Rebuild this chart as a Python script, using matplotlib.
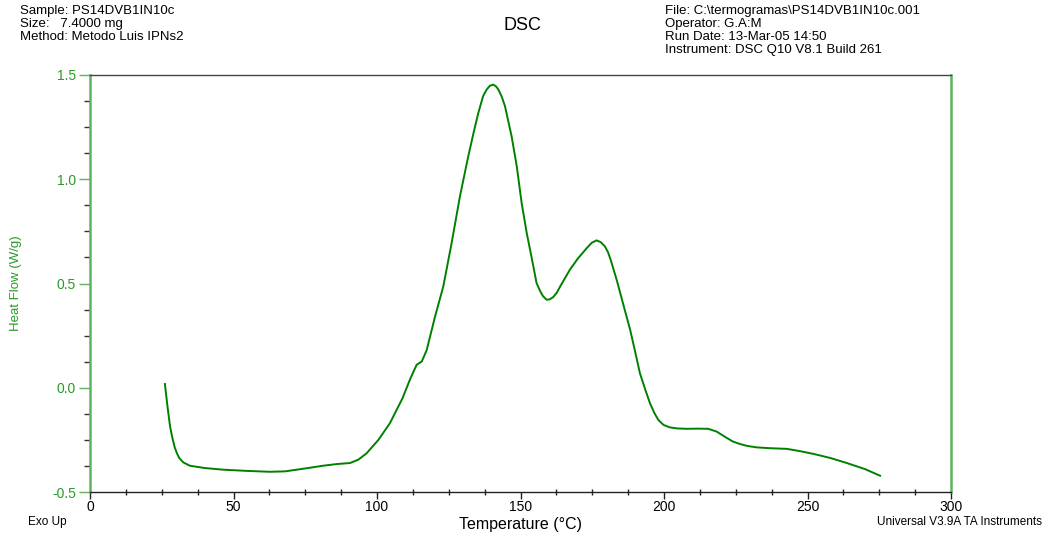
"""
DSC thermogram for sample PS14DVB1IN10c, redrawn with matplotlib.
"""
import matplotlib
matplotlib.use("Agg")
import matplotlib.pyplot as plt
from matplotlib.ticker import MultipleLocator, FormatStrFormatter

matplotlib.rcParams.update({
    "font.family": ["Liberation Sans", "DejaVu Sans"],
    "font.size": 10,
})

# temperature (°C) and heat flow (W/g)
temp = [26.1, 26.5, 27.0, 27.9, 28.7, 29.5, 30.3, 31.1, 32.5, 34.8, 40.0,
        46.4, 55.0, 62.7, 68.0, 72.0, 76.5, 81.2, 86.0, 90.6, 93.5, 96.4,
        100.5, 104.5, 108.9, 111.5, 113.8, 115.6, 117.3, 120.2, 123.1, 126.0,
        128.9, 131.8, 133.6, 135.3, 137.0, 138.2, 139.3, 140.5, 141.5, 142.3,
        143.5, 144.6, 146.9, 148.7, 150.4, 152.2, 153.8, 155.6, 156.8, 157.8,
        159.1, 160.2, 161.4, 162.6, 164.0, 167.2, 170.0, 173.1, 174.8, 176.5,
        178.0, 179.4, 180.5, 181.5, 183.5, 186.0, 188.2, 190.0, 191.6, 193.5,
        195.1, 196.6, 198.0, 199.8, 202.0, 204.5, 207.9, 212.0, 215.4, 218.3,
        221.8, 224.0, 226.5, 229.0, 232.3, 237.0, 242.7, 247.0, 252.0, 258.0,
        263.7, 270.0, 275.3]
heat_flow = [0.018, -0.03, -0.09, -0.186, -0.24, -0.285, -0.315, -0.337,
             -0.358, -0.374, -0.385, -0.393, -0.399, -0.403, -0.401, -0.393,
             -0.384, -0.374, -0.366, -0.361, -0.345, -0.314, -0.25, -0.17,
             -0.05, 0.04, 0.11, 0.126, 0.18, 0.34, 0.486, 0.694, 0.918, 1.11,
             1.22, 1.318, 1.40, 1.43, 1.448, 1.454, 1.445, 1.43, 1.395, 1.35,
             1.206, 1.062, 0.886, 0.74, 0.63, 0.502, 0.465, 0.44, 0.422, 0.424,
             0.435, 0.455, 0.49, 0.566, 0.62, 0.67, 0.695, 0.707, 0.698, 0.678,
             0.65, 0.61, 0.518, 0.39, 0.278, 0.17, 0.07, -0.01, -0.074, -0.12,
             -0.154, -0.178, -0.19, -0.195, -0.197, -0.196, -0.197, -0.21,
             -0.24, -0.258, -0.27, -0.279, -0.286, -0.29, -0.293, -0.303,
             -0.317, -0.337, -0.361, -0.39, -0.422]

CURVE_GREEN = "#008000"
AXIS_GREEN = "#5fb35f"
LABEL_GREEN = "#2a9a2a"

fig = plt.figure(figsize=(10.48, 5.35), dpi=100)
ax = fig.add_axes([90 / 1048, 1 - 492 / 535, 861 / 1048, 417 / 535])

ax.plot(temp, heat_flow, color=CURVE_GREEN, linewidth=1.4,
        solid_joinstyle="round")

ax.set_xlim(0, 300)
ax.set_ylim(-0.5, 1.5)
ax.xaxis.set_major_locator(MultipleLocator(50))
ax.xaxis.set_minor_locator(MultipleLocator(12.5))
ax.yaxis.set_major_locator(MultipleLocator(0.5))
ax.yaxis.set_minor_locator(MultipleLocator(0.125))
ax.yaxis.set_major_formatter(FormatStrFormatter("%.1f"))

ax.spines["left"].set_color(AXIS_GREEN)
ax.spines["left"].set_linewidth(1.8)
ax.spines["right"].set_color(AXIS_GREEN)
ax.spines["right"].set_linewidth(1.8)
ax.spines["top"].set_color("#444444")
ax.spines["top"].set_linewidth(1.0)
ax.spines["bottom"].set_color("#222222")
ax.spines["bottom"].set_linewidth(1.0)

ax.tick_params(axis="y", which="major", length=8, width=1.0, color=AXIS_GREEN,
               labelcolor=LABEL_GREEN, labelsize=10, pad=2)
ax.tick_params(axis="y", which="minor", length=4, width=1.0, color="#333333")
ax.tick_params(axis="x", which="major", length=5, width=1.0, color="#222222",
               labelsize=10, pad=1)
ax.tick_params(axis="x", which="minor", length=4, width=1.0, color="#222222",
               direction="inout")

ax.set_xlabel("Temperature (°C)", fontsize=11.5, labelpad=2)
fig.text(16 / 1048, 1 - 283 / 535, "Heat Flow (W/g)", rotation=90,
         color=LABEL_GREEN, fontsize=9.5, ha="center", va="center")

# header block
fig.text(20 / 1048, 1 - 5 / 535,
         "Sample: PS14DVB1IN10c\nSize:   7.4000 mg\nMethod: Metodo Luis IPNs2",
         fontsize=9.5, ha="left", va="top", linespacing=1.12)
fig.text(665 / 1048, 1 - 5 / 535,
         "File: C:\\termogramas\\PS14DVB1IN10c.001\nOperator: G.A:M\n"
         "Run Date: 13-Mar-05 14:50\nInstrument: DSC Q10 V8.1 Build 261",
         fontsize=9.5, ha="left", va="top", linespacing=1.12)
fig.text(522 / 1048, 1 - 25 / 535, "DSC", fontsize=13, ha="center", va="center")

fig.text(28 / 1048, 1 - 522 / 535, "Exo Up", fontsize=8.5, ha="left", va="center")
fig.text(1042 / 1048, 1 - 522 / 535, "Universal V3.9A TA Instruments",
         fontsize=8.5, ha="right", va="center")

fig.savefig("out.png", dpi=100)
